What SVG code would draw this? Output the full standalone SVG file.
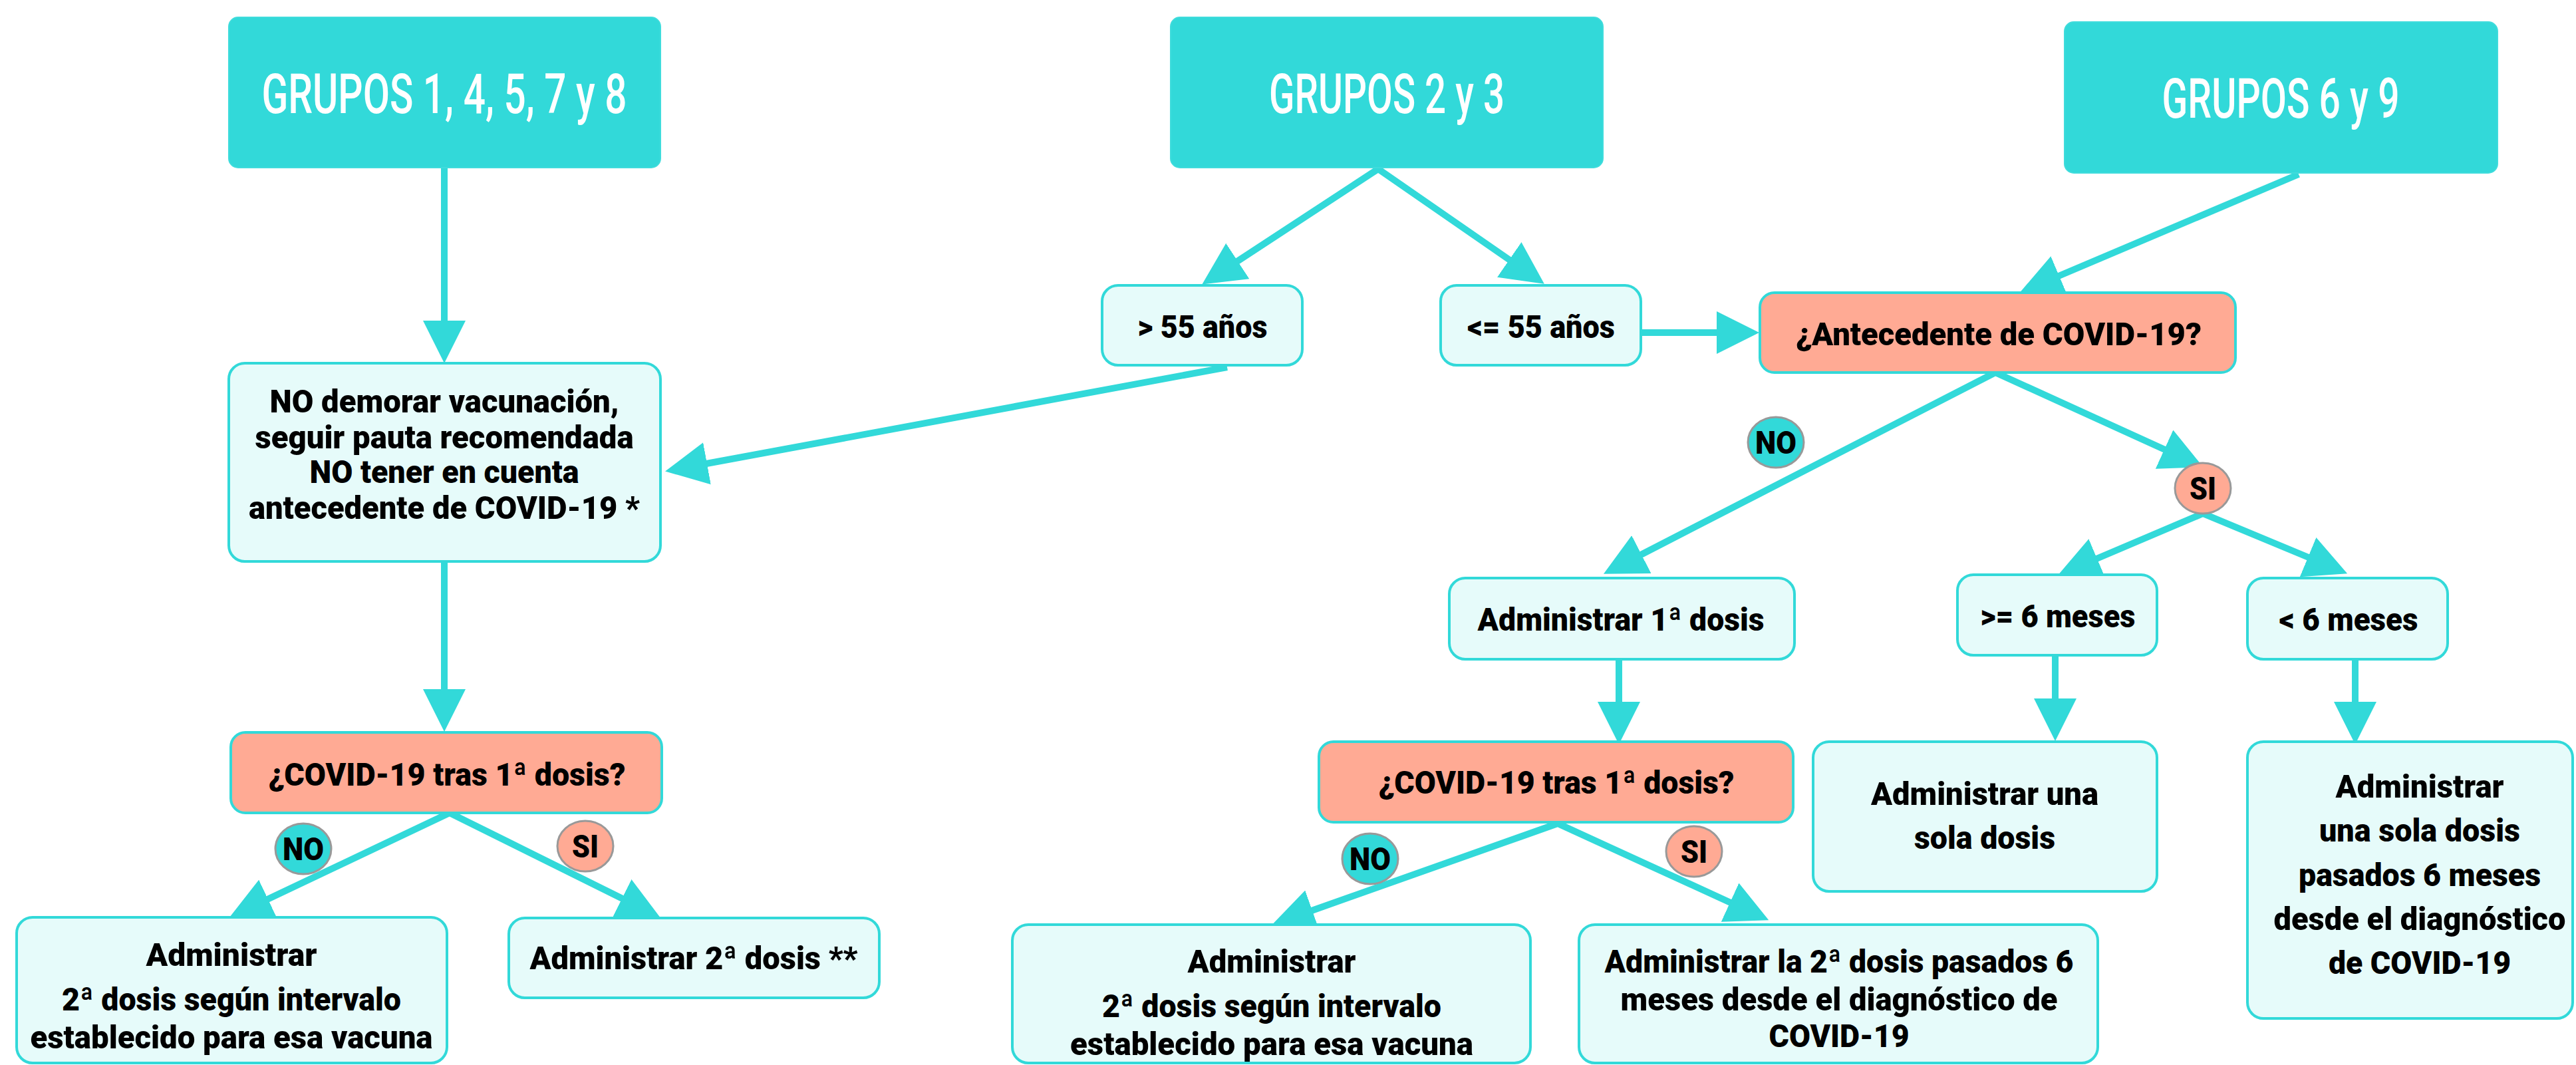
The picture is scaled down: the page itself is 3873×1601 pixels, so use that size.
<svg xmlns="http://www.w3.org/2000/svg" width="3873" height="1601" viewBox="0 0 3873 1601">
<style>
.hdr{fill:#32D9D9;stroke:#3FDCDC;stroke-width:2}
.lt{fill:#E6FBFA;stroke:#32D9D9;stroke-width:4}
.q{fill:#FFAA94;stroke:#32D9D9;stroke-width:4}
.title{font-family:Roboto,"Liberation Sans",sans-serif;font-size:84px;font-weight:500;fill:#FFFFFF;text-anchor:middle}
.t{font-family:Roboto,"Liberation Sans",sans-serif;font-size:49px;font-weight:900;fill:#000000;text-anchor:middle}
.edge{fill:none;stroke:#32D9D9;stroke-width:10;stroke-linejoin:miter}
.no{fill:#32D9D9;stroke:#999999;stroke-width:3}
.si{fill:#FFAA94;stroke:#999999;stroke-width:3}
</style>
<defs>
<marker id="ah" markerUnits="userSpaceOnUse" viewBox="0 0 64 64" markerWidth="64" markerHeight="64" refX="1" refY="32" orient="auto-start-reverse">
<path d="M0,0 L64,32 L0,64 Z" fill="#32D9D9"/>
</marker>
</defs>
<rect width="3873" height="1601" fill="#FFFFFF"/>

<g id="connectors">
<path class="edge" d="M668,252 L668,483" marker-end="url(#ah)"/>
<path class="edge" d="M1860,393 L2072,254 L2270,391" marker-start="url(#ah)" marker-end="url(#ah)"/>
<path class="edge" d="M2467,500 L2582,500" marker-end="url(#ah)"/>
<path class="edge" d="M3456,262 L3095,415" marker-end="url(#ah)"/>
<path class="edge" d="M1845,552 L1062,697" marker-end="url(#ah)"/>
<path class="edge" d="M668,844 L668,1037" marker-end="url(#ah)"/>
<path class="edge" d="M402,1352 L676,1222 L936,1351" marker-start="url(#ah)" marker-end="url(#ah)"/>
<path class="edge" d="M2467,834 L3000,560 L3255,676" marker-start="url(#ah)" marker-end="url(#ah)"/>
<path class="edge" d="M3152,840 L3312,772 L3471,838" marker-start="url(#ah)" marker-end="url(#ah)"/>
<path class="edge" d="M2434,991 L2434,1056" marker-end="url(#ah)"/>
<path class="edge" d="M1972,1369 L2342,1238 L2602,1357" marker-start="url(#ah)" marker-end="url(#ah)"/>
<path class="edge" d="M3090,985 L3090,1051" marker-end="url(#ah)"/>
<path class="edge" d="M3541,991 L3541,1056" marker-end="url(#ah)"/>
</g>

<g id="grupos-1-4-5-7-8">
<rect class="hdr" x="344" y="26" width="649" height="226" rx="14"/>
<text class="title" x="668" y="170" textLength="549" lengthAdjust="spacingAndGlyphs">GRUPOS 1, 4, 5, 7 y 8</text>
</g>
<g id="grupos-2-3">
<rect class="hdr" x="1760" y="26" width="650" height="226" rx="14"/>
<text class="title" x="2085" y="170" textLength="354" lengthAdjust="spacingAndGlyphs">GRUPOS 2 y 3</text>
</g>
<g id="grupos-6-9">
<rect class="hdr" x="3104" y="33" width="651" height="227" rx="14"/>
<text class="title" x="3429" y="177" textLength="357" lengthAdjust="spacingAndGlyphs">GRUPOS 6 y 9</text>
</g>

<g id="no-demorar">
<rect class="lt" x="344" y="546" width="649" height="298" rx="24"/>
<text class="t" x="668" y="620" textLength="525" lengthAdjust="spacingAndGlyphs">NO demorar vacunación,</text>
<text class="t" x="668" y="674" textLength="569" lengthAdjust="spacingAndGlyphs">seguir pauta recomendada</text>
<text class="t" x="668" y="726" textLength="405" lengthAdjust="spacingAndGlyphs">NO tener en cuenta</text>
<text class="t" x="668" y="780" textLength="588" lengthAdjust="spacingAndGlyphs">antecedente de COVID-19 *</text>
</g>

<g id="mayor-55">
<rect class="lt" x="1657" y="429" width="301" height="120" rx="24"/>
<text class="t" x="1808" y="508" textLength="195" lengthAdjust="spacingAndGlyphs">&gt; 55 años</text>
</g>
<g id="menor-igual-55">
<rect class="lt" x="2166" y="429" width="301" height="120" rx="24"/>
<text class="t" x="2317" y="508" textLength="222" lengthAdjust="spacingAndGlyphs">&lt;= 55 años</text>
</g>

<g id="antecedente">
<rect class="q" x="2646" y="440" width="715" height="120" rx="22"/>
<text class="t" x="3005" y="519" textLength="610" lengthAdjust="spacingAndGlyphs">¿Antecedente de COVID-19?</text>
</g>

<g id="covid-tras-1-izq">
<rect class="q" x="347" y="1101" width="648" height="121" rx="22"/>
<text class="t" x="672" y="1181" textLength="537" lengthAdjust="spacingAndGlyphs">¿COVID-19 tras 1ª dosis?</text>
</g>

<g id="administrar-1-dosis">
<rect class="lt" x="2179" y="869" width="519" height="122" rx="24"/>
<text class="t" x="2437" y="948" textLength="431" lengthAdjust="spacingAndGlyphs">Administrar 1ª dosis</text>
</g>

<g id="mayor-igual-6-meses">
<rect class="lt" x="2943" y="864" width="300" height="121" rx="24"/>
<text class="t" x="3094" y="943" textLength="233" lengthAdjust="spacingAndGlyphs">&gt;= 6 meses</text>
</g>
<g id="menor-6-meses">
<rect class="lt" x="3379" y="869" width="301" height="122" rx="24"/>
<text class="t" x="3531" y="948" textLength="209" lengthAdjust="spacingAndGlyphs">&lt; 6 meses</text>
</g>

<g id="covid-tras-1-der">
<rect class="q" x="1983" y="1115" width="713" height="121" rx="22"/>
<text class="t" x="2340" y="1193" textLength="535" lengthAdjust="spacingAndGlyphs">¿COVID-19 tras 1ª dosis?</text>
</g>

<g id="una-sola-dosis">
<rect class="lt" x="2726" y="1115" width="517" height="225" rx="24"/>
<text class="t" x="2984" y="1210" textLength="342" lengthAdjust="spacingAndGlyphs">Administrar una</text>
<text class="t" x="2984" y="1276" textLength="212" lengthAdjust="spacingAndGlyphs">sola dosis</text>
</g>

<g id="una-sola-dosis-pasados">
<rect class="lt" x="3379" y="1115" width="489" height="416" rx="24"/>
<text class="t" x="3638" y="1199" textLength="253" lengthAdjust="spacingAndGlyphs">Administrar</text>
<text class="t" x="3638" y="1265" textLength="302" lengthAdjust="spacingAndGlyphs">una sola dosis</text>
<text class="t" x="3638" y="1332" textLength="364" lengthAdjust="spacingAndGlyphs">pasados 6 meses</text>
<text class="t" x="3638" y="1398" textLength="439" lengthAdjust="spacingAndGlyphs">desde el diagnóstico</text>
<text class="t" x="3638" y="1464" textLength="274" lengthAdjust="spacingAndGlyphs">de COVID-19</text>
</g>

<g id="segun-intervalo-izq">
<rect class="lt" x="25" y="1379" width="647" height="219" rx="24"/>
<text class="t" x="348" y="1452" textLength="257" lengthAdjust="spacingAndGlyphs">Administrar</text>
<text class="t" x="348" y="1519" textLength="510" lengthAdjust="spacingAndGlyphs">2ª dosis según intervalo</text>
<text class="t" x="348" y="1576" textLength="605" lengthAdjust="spacingAndGlyphs">establecido para esa vacuna</text>
</g>

<g id="administrar-2-dosis">
<rect class="lt" x="765" y="1380" width="557" height="120" rx="24"/>
<text class="t" x="1043" y="1457" textLength="493" lengthAdjust="spacingAndGlyphs">Administrar 2ª dosis **</text>
</g>

<g id="segun-intervalo-der">
<rect class="lt" x="1522" y="1390" width="779" height="208" rx="24"/>
<text class="t" x="1912" y="1462" textLength="253" lengthAdjust="spacingAndGlyphs">Administrar</text>
<text class="t" x="1912" y="1529" textLength="510" lengthAdjust="spacingAndGlyphs">2ª dosis según intervalo</text>
<text class="t" x="1912" y="1586" textLength="606" lengthAdjust="spacingAndGlyphs">establecido para esa vacuna</text>
</g>

<g id="segunda-pasados-6">
<rect class="lt" x="2374" y="1390" width="780" height="208" rx="24"/>
<text class="t" x="2765" y="1462" textLength="705" lengthAdjust="spacingAndGlyphs">Administrar la 2ª dosis pasados 6</text>
<text class="t" x="2765" y="1519" textLength="657" lengthAdjust="spacingAndGlyphs">meses desde el diagnóstico de</text>
<text class="t" x="2765" y="1574" textLength="211" lengthAdjust="spacingAndGlyphs">COVID-19</text>
</g>

<g id="label-no-antecedente">
<ellipse class="no" cx="2670" cy="665" rx="42" ry="38"/>
<text class="t" x="2670" y="682" textLength="62" lengthAdjust="spacingAndGlyphs">NO</text>
</g>
<g id="label-si-antecedente">
<ellipse class="si" cx="3312" cy="734" rx="42" ry="38"/>
<text class="t" x="3312" y="751" textLength="40" lengthAdjust="spacingAndGlyphs">SI</text>
</g>
<g id="label-no-izq">
<ellipse class="no" cx="456" cy="1276" rx="42" ry="38"/>
<text class="t" x="456" y="1293" textLength="62" lengthAdjust="spacingAndGlyphs">NO</text>
</g>
<g id="label-si-izq">
<ellipse class="si" cx="880" cy="1272" rx="42" ry="38"/>
<text class="t" x="880" y="1289" textLength="40" lengthAdjust="spacingAndGlyphs">SI</text>
</g>
<g id="label-no-der">
<ellipse class="no" cx="2060" cy="1291" rx="42" ry="38"/>
<text class="t" x="2060" y="1308" textLength="62" lengthAdjust="spacingAndGlyphs">NO</text>
</g>
<g id="label-si-der">
<ellipse class="si" cx="2547" cy="1280" rx="42" ry="38"/>
<text class="t" x="2547" y="1297" textLength="40" lengthAdjust="spacingAndGlyphs">SI</text>
</g>
</svg>
